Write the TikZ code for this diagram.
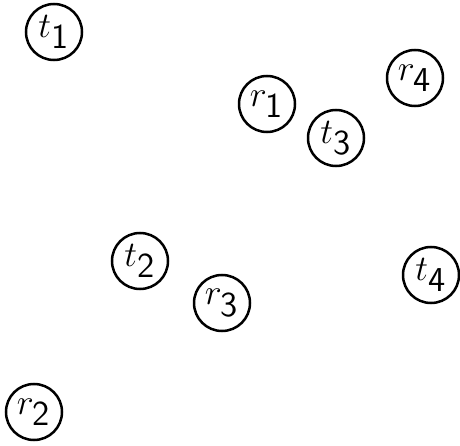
\documentclass[tikz,border=0pt]{standalone}
\begin{document}
\begin{tikzpicture}[x=0.4pt,y=-0.4pt,
  vtx/.style={draw,circle,line width=1pt,minimum size=22.4pt,inner sep=0pt,font=\fontsize{14}{17}\selectfont}]
\useasboundingbox (0,0) rectangle (460,446);
\node[vtx] (t1) at (54,32) {$t_{\textsf{1}}$};
\node[vtx] (r1) at (267,104) {$r_{\textsf{1}}$};
\node[vtx] (r4) at (415,78) {$r_{\textsf{4}}$};
\node[vtx] (t3) at (336,138) {$t_{\textsf{3}}$};
\node[vtx] (t2) at (140,261) {$t_{\textsf{2}}$};
\node[vtx] (r3) at (222,303) {$r_{\textsf{3}}$};
\node[vtx] (t4) at (431,275) {$t_{\textsf{4}}$};
\node[vtx] (r2) at (34,412) {$r_{\textsf{2}}$};
\end{tikzpicture}
\end{document}
